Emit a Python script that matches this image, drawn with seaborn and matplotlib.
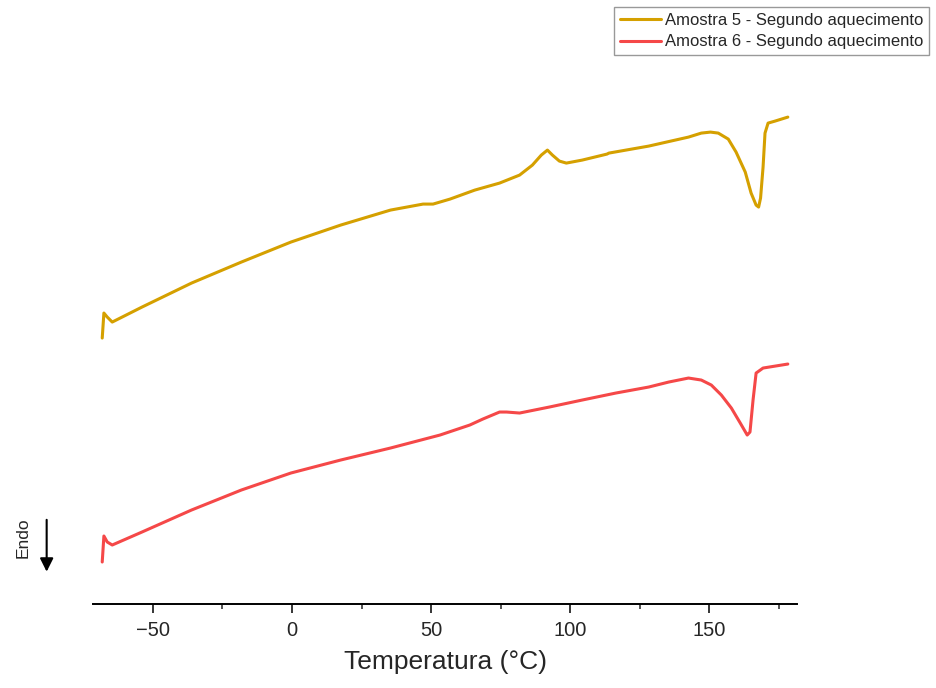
import pandas as pd
import seaborn as sns
import matplotlib.pyplot as plt

# Amostra 5 - heat flow (arbitrary units, exo up)
temp_a5 = [-68.2, -67.6, -66.4, -64.6, -53.9, -36.1, -18.2, -0.4, 17.5, 35.4, 47.1, 50.7,
           56.8, 65.7, 74.6, 81.8, 86.4, 89.6, 91.8, 93.6, 96.1, 98.6, 104.3, 113.2, 113.9,
           128.2, 142.5, 147.1, 150.4, 153.2, 156.8, 159.6, 162.9, 165.0, 166.8, 167.7, 168.4,
           169.3, 170.0, 171.1, 173.6, 178.2]
flow_a5 = [2.66, 2.91, 2.87, 2.82, 2.97, 3.21, 3.42, 3.62, 3.79, 3.94, 4.00, 4.00,
           4.05, 4.14, 4.21, 4.29, 4.39, 4.49, 4.54, 4.49, 4.43, 4.41, 4.44, 4.50, 4.51,
           4.58, 4.67, 4.71, 4.72, 4.71, 4.65, 4.52, 4.32, 4.11, 3.99, 3.97, 4.06,
           4.37, 4.71, 4.81, 4.83, 4.87]

# Amostra 6 - heat flow (arbitrary units, exo up)
temp_a6 = [-68.2, -67.6, -66.4, -64.6, -53.9, -36.1, -18.2, -0.4, 17.5, 35.4, 53.2, 63.9,
           68.6, 74.6, 77.1, 81.8, 92.5, 104.3, 116.4, 128.2, 135.4, 142.5, 147.1, 150.7,
           154.3, 157.9, 161.1, 163.6, 164.6, 165.7, 166.8, 169.3, 178.2]
flow_a6 = [0.42, 0.68, 0.62, 0.59, 0.72, 0.94, 1.14, 1.31, 1.44, 1.56, 1.69, 1.79,
           1.85, 1.92, 1.92, 1.91, 1.97, 2.04, 2.11, 2.17, 2.22, 2.26, 2.24, 2.19,
           2.09, 1.96, 1.81, 1.69, 1.72, 2.04, 2.31, 2.36, 2.40]

labels = ["Amostra 5 - Segundo aquecimento", "Amostra 6 - Segundo aquecimento"]
colors = ["#D5A000", "#F54848"]

df = pd.concat([
    pd.DataFrame({"T": temp_a5, "flow": flow_a5, "amostra": labels[0]}),
    pd.DataFrame({"T": temp_a6, "flow": flow_a6, "amostra": labels[1]}),
])

sns.set_style("white")
plt.rcParams["font.family"] = ["Liberation Sans", "DejaVu Sans"]

fig = plt.figure(figsize=(9.37, 6.88), dpi=100)
ax = fig.add_axes([0.0993, 0.1221, 0.7513, 0.776])

sns.lineplot(data=df, x="T", y="flow", hue="amostra", palette=colors, sort=False,
             estimator=None, linewidth=2.2, ax=ax, legend=False)
for line in ax.lines:
    line.set_solid_joinstyle("round")

ax.set_xlim(-71.5, 181.5)
ax.set_ylim(0, 5.34)
ax.set_xticks([-50, 0, 50, 100, 150])
ax.set_xticks([-25, 25, 75, 125, 175], minor=True)
ax.set_yticks([])
ax.set_ylabel("")
ax.set_xlabel("Temperatura (°C)", fontsize=19, labelpad=7)
ax.tick_params(axis="x", which="major", direction="out", length=6.5, width=1.3,
               labelsize=14.5, bottom=True, pad=6)
ax.tick_params(axis="x", which="minor", direction="out", length=3.6, width=1.1, bottom=True)
sns.despine(ax=ax, left=True)
ax.spines["bottom"].set_linewidth(1.4)
ax.spines["bottom"].set_color("black")

handles = [plt.Line2D([], [], color=c, linewidth=2.2) for c in colors]
fig.legend(handles, labels, loc="upper right", bbox_to_anchor=(0.9915, 0.99),
           fontsize=12, frameon=True, fancybox=False, framealpha=1,
           edgecolor="#999999", handlelength=2.5, handletextpad=0.2,
           labelspacing=0.4, borderpad=0.35, borderaxespad=0)

fig.text(0.0245, 0.219, "Endo", rotation=90, fontsize=12.5, ha="center", va="center")
fig.add_artist(plt.Annotation("", xy=(0.0498, 0.165), xytext=(0.0498, 0.2485),
                              xycoords="figure fraction",
                              arrowprops=dict(arrowstyle="-|>", color="black", lw=1.5,
                                              mutation_scale=20)))

fig.savefig("out.png", dpi=100)
